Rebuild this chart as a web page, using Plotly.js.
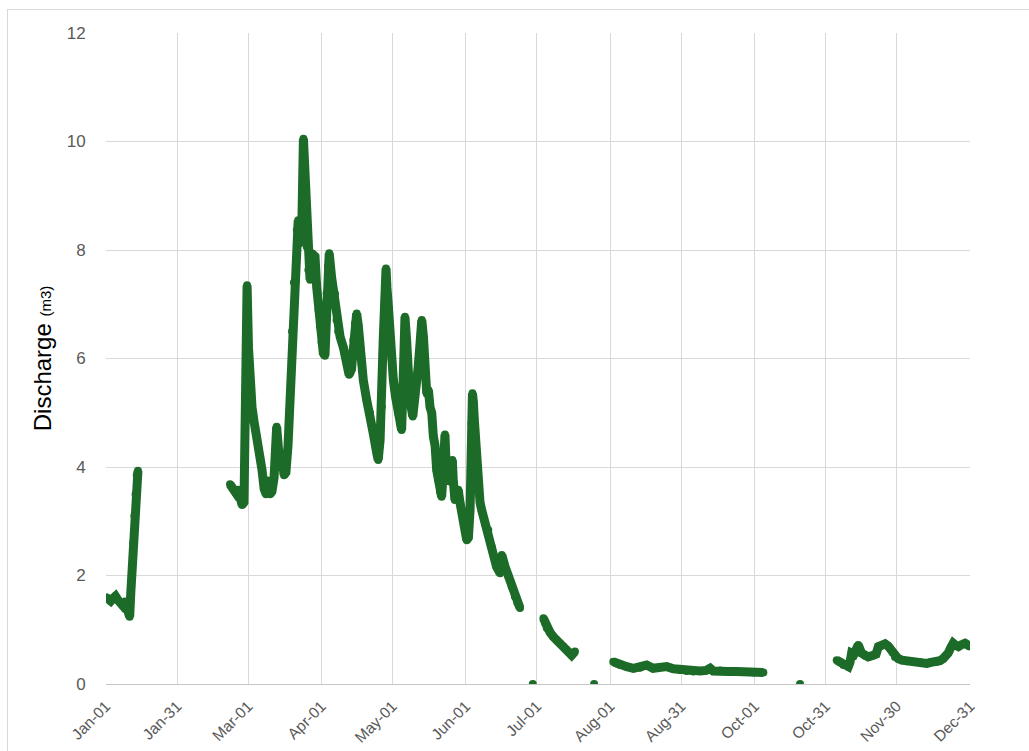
<!DOCTYPE html>
<html>
<head>
<meta charset="utf-8">
<script src="https://cdn.plot.ly/plotly-3.0.1.min.js"></script>
<style>
  html, body { margin: 0; padding: 0; background: #ffffff; overflow: hidden; }
  #frame { position: absolute; left: 7px; top: 9px; width: 1200px; height: 900px;
           border-top: 1px solid #d9d9d9; border-left: 1px solid #d9d9d9; }
  #chart { position: absolute; left: 0; top: 0; width: 1029px; height: 751px; }
</style>
</head>
<body>
<div id="frame"></div>
<div id="chart"></div>
<script>
// Discharge record for 2020, x given as day of year (0 = Jan 1), null = no data
const dayOfYear = [
  0, 1, 2, 3, 4, 5, 6, 7, 8, 9, 10, 10.5, 11, 11.5, 12, 12.5, 13, 13.5,
  null,
  52.4, 53.7, 54.9, 55.8, 56.6, 57.5, 58.3, 58.9, 59.6, 60.2, 60.8, 61.7, 62.5, 63.8,
  65.1, 65.9, 66.8, 67.6, 68.4, 69.3, 70.1, 71, 72.1, 72.7, 73.5, 74.4, 75.2, 76,
  76.9, 77.7, 78.6, 79.4, 80.6, 81.2, 82, 82.7, 83.4, 84.1, 84.8, 85.5, 86.2, 86.9,
  87.7, 88.3, 89, 89.8, 90.4, 91.1, 91.8, 92.5, 93.2, 93.8, 94.3, 95.3, 96, 96.7,
  97.4, 98.1, 98.9, 100.3, 101.7, 102.7, 103.7, 104.5, 105.2, 105.9, 106.6, 107.3,
  108, 108.7, 110.1, 111.5, 112.9, 114.4, 115, 115.8, 116.5, 117.1, 117.7, 118.3,
  118.7, 119.3, 120, 120.7, 121.4, 122.3, 123.5, 124.2, 124.9, 125.6, 126.3, 127,
  127.7, 128.4, 129.6, 130.5, 131.9, 132.7, 133.4, 134.1, 134.8, 135.5, 136.2, 136.9,
  137.6, 138.3, 139, 139.7, 140.4, 141.1, 141.8, 142.5, 143.2, 143.9, 144.6, 145.3,
  146.3, 146.7, 147.4, 148.1, 148.8, 149.6, 150.2, 150.9, 151.7, 152.4, 153.1, 153.8,
  154.1, 154.4, 154.8, 155.2, 155.6, 156.3, 157.3, 158, 158.7, 160.1, 161.5, 162.9,
  163.9, 165, 166.5, 167.2, 167.7, 168.6, 170, 171.4, 172.8, 173.8, 174.9,
  null,
  180.3,
  null,
  184.8, 185.5, 186.2, 187.6, 189, 190.4, 191.8, 193.2, 194.6, 195.6, 196.7, 198.1,
  null,
  206.2,
  null,
  214.3, 215.8, 217.2, 220, 222.8, 225.6, 228.4, 231.1, 234, 236.9, 239.7, 242.5,
  245.3, 248.1, 251, 253.5, 255.2, 256.5, 259.5, 262.8, 266.4, 270, 273.5, 277.7,
  null,
  293.2,
  null,
  308.7, 310.1, 311.5, 313.6, 314.3, 315, 316, 316.8, 317.8, 319.2, 320.6, 322,
  324.2, 325.3, 326.3, 327.4, 329.1, 330.4, 331.2, 332.3, 333.3, 334.6, 336.2, 338.4,
  341.1, 343.9, 346.7, 348.5, 350.9, 352.3, 353.7, 354.8, 355.8, 357, 357.9, 358.7,
  360.1, 361.2, 362.9, 364.1, 365
];

const discharge = [
  1.6, 1.57, 1.53, 1.58, 1.62, 1.55, 1.5, 1.45, 1.52, 1.38, 1.24, 1.7, 2.1, 2.6, 3.1, 3.5, 3.85, 3.93,
  null,
  3.68, 3.6, 3.52, 3.58, 3.45, 3.3, 3.35, 5.0, 7.35, 6.2, 5.36, 5.1, 4.85, 4.55,
  4.2, 3.95, 3.6, 3.5, 3.75, 3.5, 3.55, 3.8, 4.74, 4.4, 4.0, 4.2, 3.85, 3.9,
  4.4, 5.3, 6.5, 7.4, 8.37, 8.55, 8.13, 8.37, 10.05, 9.17, 8.06, 7.63, 7.45, 7.94,
  7.9, 7.88, 7.32, 6.9, 6.59, 6.3, 6.1, 6.05, 7.2, 7.7, 7.94, 7.5, 7.25, 7.2,
  6.71, 6.5, 6.4, 6.2, 5.9, 5.7, 5.8, 6.34, 6.65, 6.83, 6.6, 6.22,
  5.9, 5.6, 5.24, 5.0, 4.62, 4.25, 4.13, 4.5, 5.11, 6.34, 7.0, 7.66,
  7.3, 6.95, 6.34, 6.0, 5.6, 5.3, 4.99, 4.8, 4.68, 5.7, 6.77, 6.34,
  5.6, 5.24, 4.93, 5.54, 5.85, 6.3, 6.71, 6.4, 5.85, 5.35, 5.42, 5.1,
  5.0, 4.56, 4.4, 3.94, 3.75, 3.55, 3.45, 3.94, 4.6, 3.76, 3.75, 3.82,
  4.13, 3.76, 3.39, 3.55, 3.58, 3.33, 3.2, 3.02, 2.85, 2.65, 2.7, 3.2,
  3.94, 4.8, 5.36, 5.2, 4.87, 4.25, 3.64, 3.35, 3.21, 2.96, 2.84, 2.53,
  2.35, 2.16, 2.04, 2.38, 2.3, 2.16, 1.98, 1.79, 1.61, 1.5, 1.4,
  null,
  0,
  null,
  1.21, 1.12, 1.03, 0.95, 0.87, 0.81, 0.75, 0.69, 0.63, 0.58, 0.53, 0.6,
  null,
  0,
  null,
  0.41, 0.38, 0.35, 0.32, 0.29, 0.3, 0.35, 0.29, 0.31, 0.32, 0.28, 0.26,
  0.24, 0.23, 0.24, 0.25, 0.29, 0.24, 0.25, 0.23, 0.23, 0.22, 0.21, 0.21,
  null,
  0,
  null,
  0.44, 0.4, 0.35, 0.32, 0.4, 0.57, 0.55, 0.62, 0.72, 0.57, 0.52, 0.5,
  0.53, 0.55, 0.69, 0.7, 0.74, 0.7, 0.66, 0.58, 0.5, 0.47, 0.44, 0.42,
  0.41, 0.4, 0.38, 0.4, 0.41, 0.43, 0.47, 0.52, 0.57, 0.68, 0.75, 0.72,
  0.69, 0.72, 0.75, 0.72, 0.69
];

const tickDates = ['2020-01-01', '2020-01-31', '2020-03-01', '2020-04-01', '2020-05-01',
  '2020-06-01', '2020-07-01', '2020-08-01', '2020-08-31', '2020-10-01', '2020-10-31',
  '2020-11-30', '2020-12-31'];
const tickLabels = ['Jan-01', 'Jan-31', 'Mar-01', 'Apr-01', 'May-01', 'Jun-01', 'Jul-01',
  'Aug-01', 'Aug-31', 'Oct-01', 'Oct-31', 'Nov-30', 'Dec-31'];

const yearStart = Date.UTC(2020, 0, 1);
const xTimes = dayOfYear.map(d => d === null ? null : yearStart + d * 86400000);

const green = '#1d6b28';

const trace = {
  x: xTimes,
  y: discharge,
  type: 'scatter',
  mode: 'lines+markers',
  connectgaps: false,
  line: { color: green, width: 9 },
  marker: { color: green, size: 8 },
  hoverinfo: 'x+y'
};

const layout = {
  width: 1029,
  height: 751,
  margin: { l: 106, r: 59, t: 33, b: 67, pad: 0 },
  paper_bgcolor: 'rgba(0,0,0,0)',
  plot_bgcolor: 'rgba(0,0,0,0)',
  showlegend: false,
  font: { family: 'Liberation Sans, Arial, sans-serif', color: '#595959' },
  xaxis: {
    type: 'date',
    range: ['2020-01-01', '2020-12-31'],
    tickmode: 'array',
    tickvals: tickDates,
    ticktext: tickLabels,
    tickangle: -45,
    tickfont: { size: 15.5, color: '#595959' },
    ticks: 'outside',
    ticklen: 6,
    tickcolor: 'rgba(0,0,0,0)',
    showgrid: true,
    gridcolor: '#d9d9d9',
    gridwidth: 1,
    showline: false,
    zeroline: false,
    automargin: false,
    fixedrange: true
  },
  yaxis: {
    range: [0, 12],
    tickmode: 'linear',
    tick0: 0,
    dtick: 2,
    tickfont: { size: 17, color: '#595959' },
    ticks: 'outside',
    ticklen: 16,
    tickcolor: 'rgba(0,0,0,0)',
    showgrid: true,
    gridcolor: '#d9d9d9',
    gridwidth: 1,
    zeroline: true,
    zerolinecolor: '#c6c6c6',
    zerolinewidth: 1,
    showline: false,
    automargin: false,
    fixedrange: true,
    title: {
      text: 'Discharge <span style="font-size:15px">(m3)</span>',
      font: { family: 'Liberation Sans, Arial, sans-serif', size: 24, color: '#000000' },
      standoff: 8
    }
  }
};

Plotly.newPlot('chart', [trace], layout, { displayModeBar: false });
</script>
</body>
</html>
